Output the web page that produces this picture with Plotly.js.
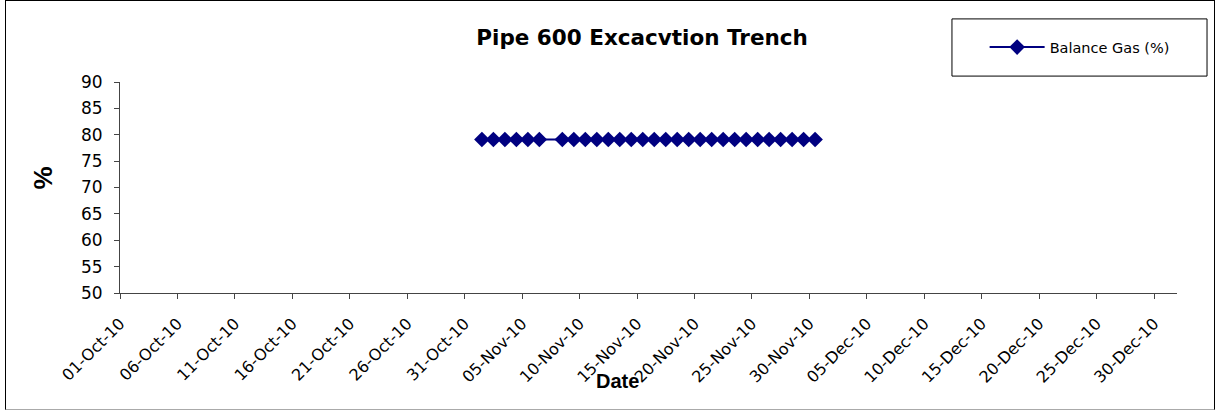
<!DOCTYPE html>
<html>
<head>
<meta charset="utf-8">
<script src="https://cdn.plot.ly/plotly-3.0.1.min.js"></script>
<style>
html,body{margin:0;padding:0;background:#fff;}
#frame{position:absolute;left:5px;top:0px;width:1208px;height:408px;border:1px solid #000;border-bottom-color:#aaa;box-sizing:content-box;}
#chart{position:absolute;left:0;top:0;width:1216px;height:412px;}
</style>
</head>
<body>
<div id="frame"></div>
<div id="chart"></div>
<script>
const dates = ['2010-11-01','2010-11-02','2010-11-03','2010-11-04','2010-11-05','2010-11-06',
  '2010-11-08','2010-11-09','2010-11-10','2010-11-11','2010-11-12','2010-11-13','2010-11-14',
  '2010-11-15','2010-11-16','2010-11-17','2010-11-18','2010-11-19','2010-11-20','2010-11-21',
  '2010-11-22','2010-11-23','2010-11-24','2010-11-25','2010-11-26','2010-11-27','2010-11-28',
  '2010-11-29','2010-11-30'];
const balanceGas = [79.1,79.1,79.1,79.1,79.1,79.1,
  79.1,79.1,79.1,79.1,79.1,79.1,79.1,
  79.1,79.1,79.1,79.1,79.1,79.1,79.1,
  79.1,79.1,79.1,79.1,79.1,79.1,79.1,
  79.1,79.1];
const seriesName = 'Balance Gas (%)';
const chartTitle = 'Pipe 600 Excacvtion Trench';
const xTitle = 'Date';
const yTitle = '%';
const xRange = ['2010-10-01','2011-01-01'];
const yRange = [50, 90];

// Excel date axis draws each daily point in the middle of its day
const xPlot = dates.map(d => d + ' 12:00');

const trace = {
  x: xPlot, y: balanceGas, name: seriesName, type: 'scatter', mode: 'lines+markers',
  line: {color: '#000080', width: 2},
  marker: {symbol: 'diamond', size: 12, color: '#000080'},
  showlegend: true
};

const tickFont = 'DejaVu Sans, Liberation Sans, Arial, sans-serif';
const boldFont = 'Liberation Sans, Arial, sans-serif';

const layout = {
  width: 1216, height: 412,
  margin: {l: 120, r: 39, t: 82, b: 119, pad: 0},
  paper_bgcolor: 'rgba(0,0,0,0)', plot_bgcolor: '#fff',
  font: {family: tickFont, color: '#000'},
  title: {text: '<b>' + chartTitle + '</b>', font: {family: tickFont, size: 21.5, color: '#000'},
          x: 0.528, xanchor: 'center', y: 0.908, yanchor: 'middle'},
  xaxis: {
    type: 'date', range: xRange, tick0: '2010-10-01', dtick: 5 * 86400000,
    tickformat: '%d-%b-%y', tickangle: -45, ticks: 'outside', ticklen: 5, tickcolor: '#444',
    showline: true, linecolor: '#444', linewidth: 1, showgrid: false, zeroline: false,
    tickfont: {size: 16, family: tickFont}, ticklabelstandoff: 9
  },
  yaxis: {
    range: yRange, dtick: 5, ticks: 'outside', ticklen: 5, tickcolor: '#444',
    showline: true, linecolor: '#444', linewidth: 1, showgrid: false, zeroline: false,
    tickfont: {size: 17, family: tickFont}, ticklabelstandoff: 8
  },
  annotations: [
    {text: '<b>' + xTitle + '</b>', xref: 'paper', yref: 'paper', x: 0.471, y: -0.415,
     xanchor: 'center', yanchor: 'middle', showarrow: false, font: {family: boldFont, size: 20}},
    {text: '<b>' + yTitle + '</b>', xref: 'paper', yref: 'paper', x: -0.0733, y: 0.545,
     xanchor: 'center', yanchor: 'middle', textangle: -90, showarrow: false, font: {family: boldFont, size: 26}}
  ],
  shapes: [
    {type: 'rect', xref: 'paper', yref: 'paper', x0: 0.7871, x1: 1.0284, y0: 1.028, y1: 1.299,
     line: {color: '#000', width: 1}, fillcolor: '#fff', layer: 'below'}
  ],
  legend: {
    x: 0.818, y: 1.165, xanchor: 'left', yanchor: 'middle',
    bgcolor: 'rgba(0,0,0,0)', borderwidth: 0,
    font: {size: 14.5, family: tickFont}, itemwidth: 55
  },
  showlegend: true
};

Plotly.newPlot('chart', [trace], layout, {displayModeBar: false, staticPlot: true});
</script>
</body>
</html>
